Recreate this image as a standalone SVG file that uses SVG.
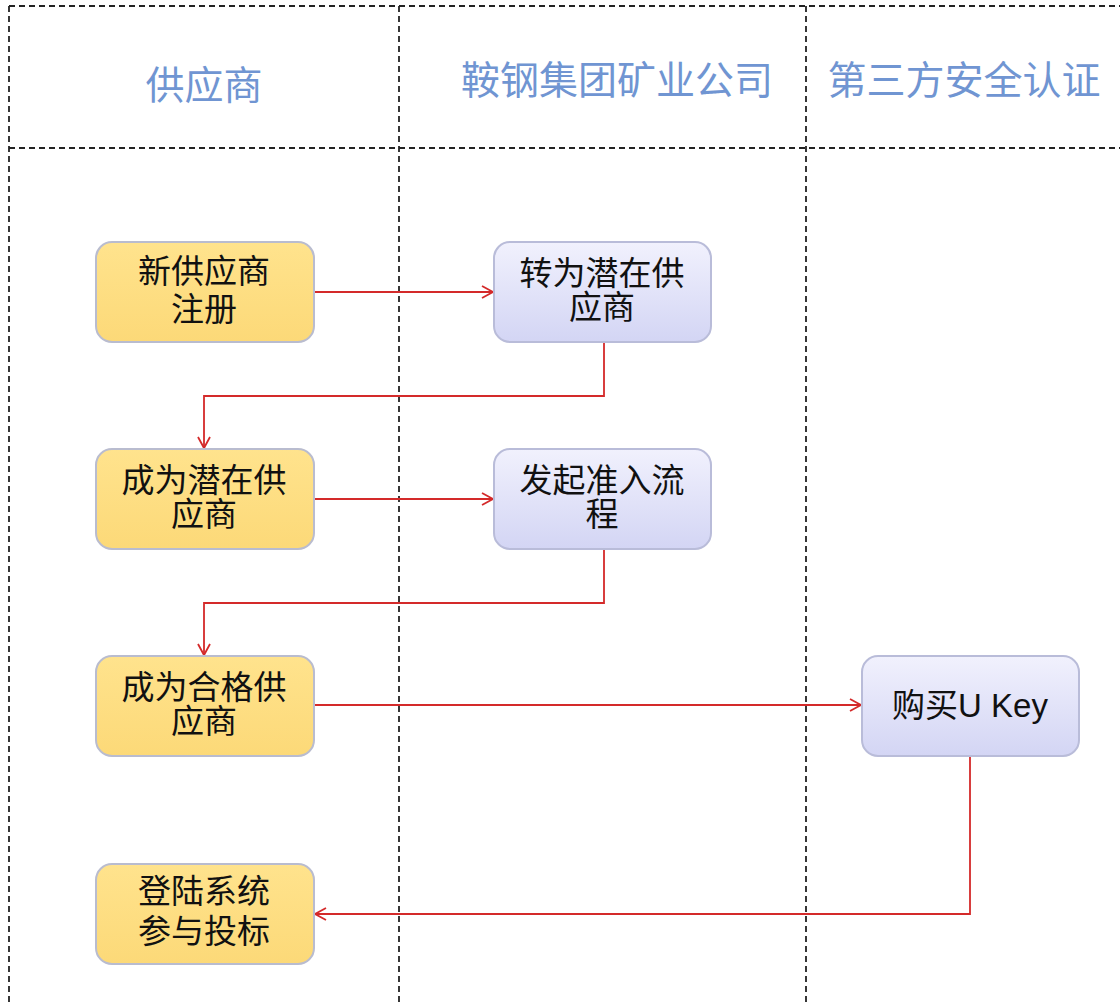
<svg xmlns="http://www.w3.org/2000/svg" width="1120" height="1006" viewBox="0 0 1120 1006">
<defs>
<style>
.lane{stroke:#222;stroke-width:1.8;stroke-dasharray:6,4;fill:none}
.hdr{font-family:"Noto Sans CJK SC","Liberation Serif",serif;font-size:39px;fill:#7095d2;text-anchor:middle}
.txt{font-family:"Liberation Sans","Noto Sans CJK SC",sans-serif;font-size:33px;fill:#111;text-anchor:middle}
.yel{fill:url(#gy);stroke:#b9bccf;stroke-width:2}
.blu{fill:url(#gb);stroke:#b9bcd9;stroke-width:2}
.con{stroke:#d42a2a;stroke-width:1.8;fill:none;marker-end:url(#arr)}
</style>
<linearGradient id="gy" x1="0" y1="0" x2="0" y2="1"><stop offset="0" stop-color="#ffe38d"/><stop offset="1" stop-color="#fcd978"/></linearGradient>
<linearGradient id="gb" x1="0" y1="0" x2="0" y2="1"><stop offset="0" stop-color="#f1f1fd"/><stop offset="1" stop-color="#d3d5f4"/></linearGradient>
<marker id="arr" markerWidth="16" markerHeight="16" refX="13" refY="8" orient="auto" markerUnits="userSpaceOnUse"><path d="M2,2 L13,8 L2,14" fill="none" stroke="#d42a2a" stroke-width="1.8"/></marker>
</defs>
<rect width="1120" height="1006" fill="#fff"/>
<g id="lanes">
<path class="lane" d="M9,6 H1120 M9,148 H1120 M9,6 V1006 M399,6 V1006 M806,6 V1006"/>
<text class="hdr" x="204" y="99">供应商</text>
<text class="hdr" x="617" y="94">鞍钢集团矿业公司</text>
<text class="hdr" x="964" y="94">第三方安全认证</text>
</g>
<g id="connectors">
<path class="con" d="M314,292 H493"/>
<path class="con" d="M604,342 V396 H204 V448"/>
<path class="con" d="M314,499 H493"/>
<path class="con" d="M604,549 V603 H204 V655"/>
<path class="con" d="M314,705 H861"/>
<path class="con" d="M970,756 V914 H315"/>
</g>
<g id="n1"><rect class="yel" x="96" y="242" width="218" height="100" rx="16"/><text class="txt" x="204" y="283">新供应商</text><text class="txt" x="204" y="321">注册</text></g>
<g id="n2"><rect class="blu" x="494" y="242" width="217" height="100" rx="16"/><text class="txt" x="602" y="285">转为潜在供</text><text class="txt" x="602" y="319">应商</text></g>
<g id="n3"><rect class="yel" x="96" y="449" width="218" height="100" rx="16"/><text class="txt" x="204" y="492">成为潜在供</text><text class="txt" x="204" y="526">应商</text></g>
<g id="n4"><rect class="blu" x="494" y="449" width="217" height="100" rx="16"/><text class="txt" x="602" y="492">发起准入流</text><text class="txt" x="602" y="526">程</text></g>
<g id="n5"><rect class="yel" x="96" y="656" width="218" height="100" rx="16"/><text class="txt" x="204" y="699">成为合格供</text><text class="txt" x="204" y="733">应商</text></g>
<g id="n6"><rect class="blu" x="862" y="656" width="217" height="100" rx="16"/><text class="txt" x="970" y="717">购买U Key</text></g>
<g id="n7"><rect class="yel" x="96" y="864" width="218" height="100" rx="16"/><text class="txt" x="204" y="903">登陆系统</text><text class="txt" x="204" y="943">参与投标</text></g>
</svg>
